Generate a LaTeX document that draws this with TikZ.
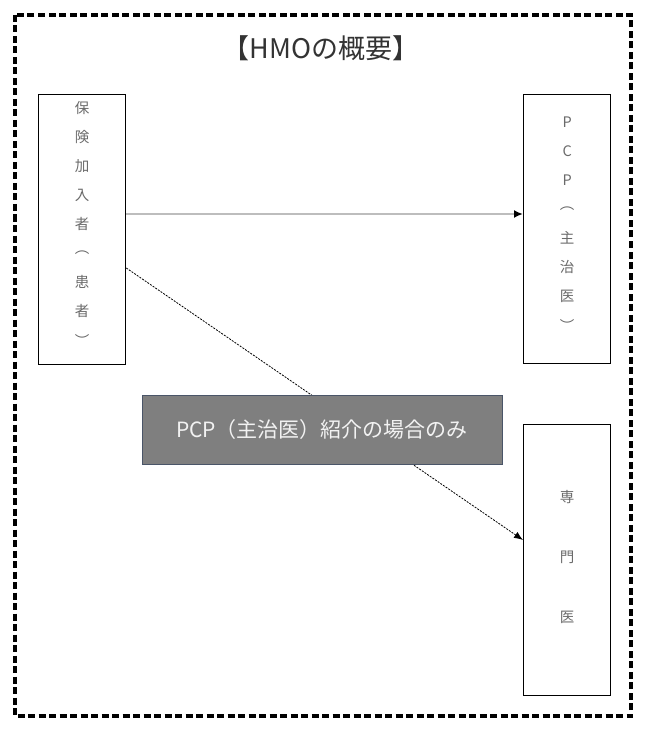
\documentclass[tikz,border=0pt]{standalone}
\usepackage{fontspec}
\usepackage{xcolor}
\usetikzlibrary{positioning,arrows.meta}
\newfontfamily\cjk{Noto Sans CJK JP}
\definecolor{mojigray}{HTML}{6A6A6A}
\definecolor{haiiro}{HTML}{7F7F7F}
\definecolor{sen}{HTML}{BDBDBD}
\definecolor{waku}{HTML}{4A5568}

\begin{document}
\begin{tikzpicture}[x=1pt,y=-1pt,
  hako/.style={draw,line width=1.3pt,minimum width=87pt,inner sep=0pt},
  moji/.style={font=\cjk\fontsize{14.5}{14.5}\selectfont,text=mojigray,inner sep=0pt}]
  \useasboundingbox (0,0) rectangle (648,735);

  % 外枠とタイトル
  \draw[line width=3.2pt,dash pattern=on 7pt off 3.5pt] (15,15) rectangle (631,716);
  \node[font=\cjk\fontsize{27}{27}\selectfont,text=black!80] (midashi) at (321,48) {【HMOの概要】};

  % 三つの箱
  \node[hako,minimum height=270pt,anchor=north west] (kanyu) at (38,94) {};
  \node[hako,minimum height=269pt,anchor=north west] (pcp) at (523,94) {};
  \node[hako,minimum height=271pt,anchor=north west] (senmon) at (523,424) {};

  % 縦書きの文字
  \foreach \c [count=\i] in {保,険,加,入,者,︵,患,者,︶}
    \node[moji] (k\i) at ([yshift={-14pt-(\i-1)*29pt}]kanyu.north) {\c};
  \foreach \c [count=\i] in {P,C,P,︵,主,治,医,︶}
    \node[moji] (p\i) at ([yshift={-28pt-(\i-1)*29pt}]pcp.north) {\c};
  \foreach \c [count=\i] in {専,門,医}
    \node[moji] (s\i) at ([yshift={-73pt-(\i-1)*60pt}]senmon.north) {\c};

  % 矢印
  \draw[sen,line width=2.6pt,-{Latex[black,length=9pt,width=8pt]}] (kanyu.east |- 0,214) -- (pcp.west |- 0,214);
  \draw[line width=0.8pt,dash pattern=on 2pt off 1.2pt,-{Latex[length=9pt,width=7pt]}] (kanyu.east |- 0,268) -- (senmon.west |- 0,540);

  % 紹介ラベル
  \node[fill=haiiro,draw=waku,line width=1pt,minimum width=360pt,minimum height=69pt,
    text=white!95!black,font=\cjk\fontsize{21}{21}\selectfont] (shokai) at (322,429.5) {PCP（主治医）紹介の場合のみ};
\end{tikzpicture}
\end{document}
